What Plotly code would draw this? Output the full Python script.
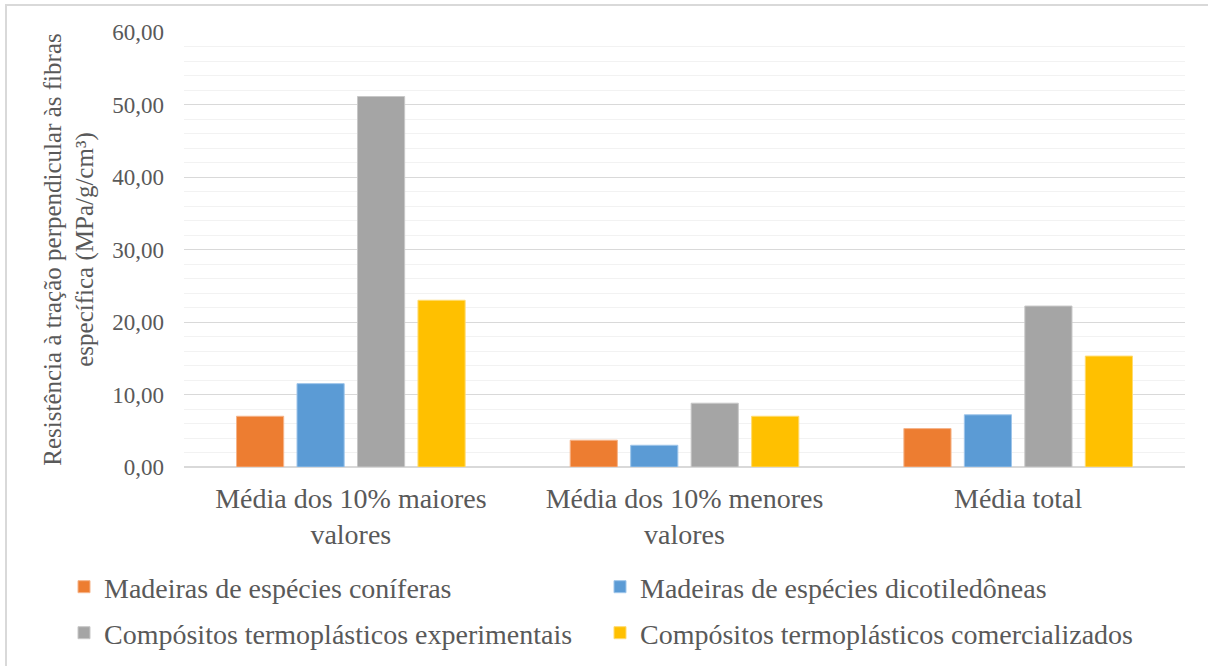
import plotly.graph_objects as go

categories = ["Média dos 10% maiores<br>valores", "Média dos 10% menores<br>valores", "Média total"]
series_names = [
    "Madeiras de espécies coníferas",
    "Madeiras de espécies dicotiledôneas",
    "Compósitos termoplásticos experimentais",
    "Compósitos termoplásticos comercializados",
]
coniferas = [7.0, 3.7, 5.3]
dicotiledoneas = [11.5, 3.0, 7.2]
experimentais = [51.1, 8.8, 22.2]
comercializados = [23.0, 7.0, 15.3]
tick_values = [0, 10, 20, 30, 40, 50, 60]
tick_labels = ["0,00", "10,00", "20,00", "30,00", "40,00", "50,00", "60,00"]

colors = ["#ED7D31", "#5B9BD5", "#A5A5A5", "#FFC000"]
edge_colors = ["#F5B48A", "#9EC5EA", "#C8C8C8", "#FFDB70"]
legends = ["legend", "legend", "legend2", "legend2"]
values = [coniferas, dicotiledoneas, experimentais, comercializados]

FONT = "Liberation Serif"
TEXT = "#595959"

fig = go.Figure()
for name, vals, col, edge, lg in zip(series_names, values, colors, edge_colors, legends):
    fig.add_trace(go.Bar(
        x=categories, y=vals, name=name,
        marker=dict(color=col, line=dict(color=edge, width=1)),
        legend=lg,
    ))

L, R, T, B = 184, 23, 32, 199
W, H = 1208, 666
pw, ph = W - L - R, H - T - B

def px_x(p):
    return (p - L) / pw

def px_y(p):
    return (H - B - p) / ph

# two legend rows, two entries each
legend_common = dict(
    orientation="h", xanchor="left", yanchor="middle",
    font=dict(family=FONT, size=28, color=TEXT),
    entrywidth=491, entrywidthmode="pixels",
    bgcolor="rgba(0,0,0,0)", itemclick=False,
)

fig.update_layout(
    width=W, height=H,
    margin=dict(l=L, r=R, t=T, b=B, autoexpand=False),
    paper_bgcolor="white", plot_bgcolor="white",
    barmode="group", bargap=0.275, bargroupgap=0.22,
    font=dict(family=FONT, color=TEXT),
    showlegend=True,
    legend=dict(x=px_x(64), y=px_y(587), **legend_common),
    legend2=dict(x=px_x(64), y=px_y(633), **legend_common),
    xaxis=dict(
        showgrid=False, showline=False, ticks="",
        tickfont=dict(family=FONT, size=28, color=TEXT),
        ticklabelstandoff=12,
    ),
    yaxis=dict(
        range=[0, 60], tickvals=tick_values, ticktext=tick_labels,
        showgrid=True, gridcolor="#D9D9D9", gridwidth=1.3,
        minor=dict(dtick=2, showgrid=True, gridcolor="#F2F2F2", gridwidth=1.3),
        zeroline=True, zerolinecolor="#D9D9D9", zerolinewidth=1.5,
        showline=False, ticks="",
        tickfont=dict(family=FONT, size=23, color=TEXT),
        ticklabelstandoff=19,
        title=dict(
            text="Resistência à tração perpendicular às fibras<br>específica (MPa/g/cm³)",
            font=dict(family=FONT, size=25, color=TEXT),
            standoff=11,
        ),
    ),
    shapes=[dict(
        type="rect", xref="paper", yref="paper",
        x0=px_x(6), x1=px_x(1230), y0=px_y(690), y1=px_y(5),
        line=dict(color="#D9D9D9", width=2), fillcolor="rgba(0,0,0,0)", layer="below",
    )],
)

fig.write_html("out.html")
